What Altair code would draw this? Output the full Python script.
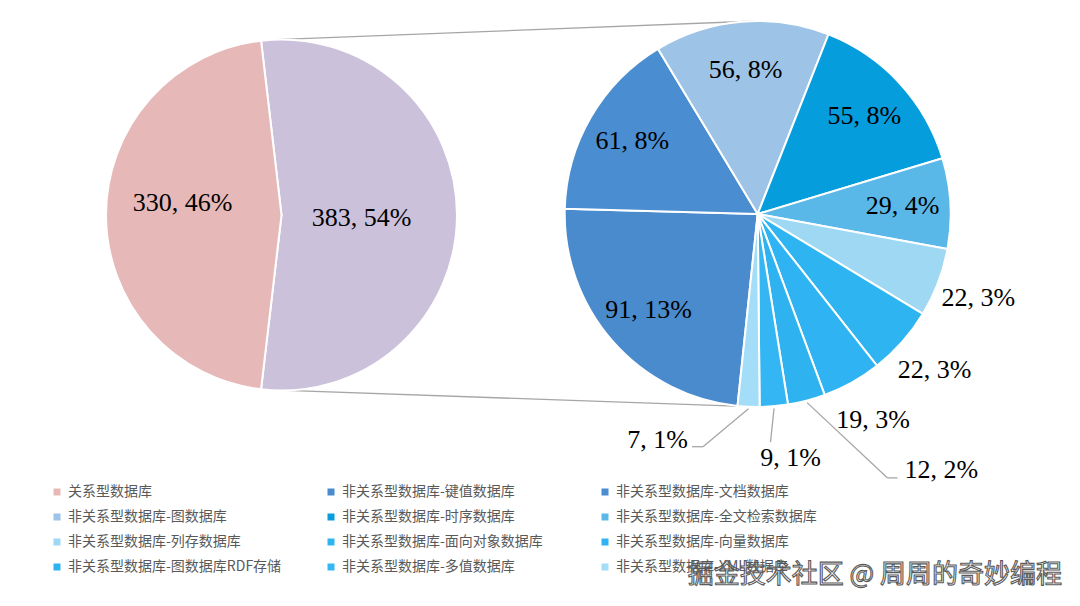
import math
import altair as alt
import pandas as pd

# ---------------- data ----------------
primary_labels = ["关系型数据库", "非关系型数据库"]
primary_values = [330, 383]

secondary_labels = [
    "非关系型数据库-键值数据库",
    "非关系型数据库-文档数据库",
    "非关系型数据库-图数据库",
    "非关系型数据库-时序数据库",
    "非关系型数据库-全文检索数据库",
    "非关系型数据库-列存数据库",
    "非关系型数据库-面向对象数据库",
    "非关系型数据库-向量数据库",
    "非关系型数据库-图数据库RDF存储",
    "非关系型数据库-多值数据库",
    "非关系型数据库-XML数据库",
]
secondary_values = [91, 61, 56, 55, 29, 22, 22, 19, 12, 9, 7]

watermark_text = ["掘金技术社区 @ 周周的奇妙编程"]

# ---------------- styles ----------------
REL_COLOR = "#e6b9b8"
NONREL_COLOR = "#ccc1da"
secondary_colors = [
    "#4a8bcd", "#4a8dd0", "#9dc3e6", "#069ddd", "#5ab8e8", "#9fd8f3",
    "#2fb4f2", "#2fb3f2", "#2fb2f0", "#33b6f3", "#a3ddf7",
]
NUM_FONT = "Liberation Serif"
CJK_FONT = "Noto Sans CJK SC"
LINE_COLOR = "#a6a6a6"

# layout (plot coordinates)
W, H = 1064, 590
LCX, LCY, LR = 273.5, 207.0, 175.5
RCX, RCY, RR = 749.7, 206.0, 193.0
R_START = math.radians(186.0)
L_START = math.pi / 2 - math.pi * primary_values[1] / sum(primary_values)


def largest_remainder(values):
    total = sum(values)
    raw = [v * 100.0 / total for v in values]
    fl = [int(math.floor(r)) for r in raw]
    rest = 100 - sum(fl)
    idx = sorted(range(len(values)), key=lambda i: raw[i] - fl[i], reverse=True)
    for i in idx[:rest]:
        fl[i] += 1
    return fl


left_pct = largest_remainder(primary_values)
right_pct = largest_remainder([primary_values[0]] + secondary_values)[1:]

left_df = pd.DataFrame({
    "cat": [primary_labels[1], primary_labels[0]],
    "value": [primary_values[1], primary_values[0]],
    "ord": [0, 1],
    "label": [f"{primary_values[1]}, {left_pct[1]}%", f"{primary_values[0]}, {left_pct[0]}%"],
})

right_df = pd.DataFrame({
    "cat": secondary_labels,
    "value": secondary_values,
    "ord": list(range(len(secondary_values))),
    "label": [f"{v}, {p}%" for v, p in zip(secondary_values, right_pct)],
})

# mid angles of secondary slices (for the small labels with leader lines)
tot = sum(secondary_values)
mids = []
cum = 0
for v in secondary_values:
    mids.append(R_START + (cum + v / 2) / tot * 2 * math.pi)
    cum += v

SMALL_LAYOUT = {
    "非关系型数据库-图数据库RDF存储": dict(align="left", nudge=(84, 16), elbow=(-17, 8), end=(-7, 8)),
    "非关系型数据库-多值数据库": dict(align="center", nudge=(12, -3), elbow=(-20, -16), end=(-20, -16)),
    "非关系型数据库-XML数据库": dict(align="right", nudge=(-58, -22), elbow=(15, 7), end=(4, 7)),
}
R_SMALL = 248

small_rows, seg_rows = [], []
for cat, v, lab, m in zip(secondary_labels, secondary_values, right_df["label"], mids):
    if cat not in SMALL_LAYOUT:
        continue
    lay = SMALL_LAYOUT[cat]
    ax = RCX + R_SMALL * math.sin(m) + lay["nudge"][0]
    ay = RCY - R_SMALL * math.cos(m) + lay["nudge"][1]
    small_rows.append({"x": ax, "y": ay, "label": lab, "align": lay["align"]})
    sx = RCX + (RR + 2) * math.sin(m)
    sy = RCY - (RR + 2) * math.cos(m)
    ex, ey = ax + lay["elbow"][0], ay + lay["elbow"][1]
    fx, fy = ax + lay["end"][0], ay + lay["end"][1]
    seg_rows.append({"x": sx, "y": sy, "x2": ex, "y2": ey})
    if (ex, ey) != (fx, fy):
        seg_rows.append({"x": ex, "y": ey, "x2": fx, "y2": fy})

# connector lines between the pies
def on_circle(cx, cy, r, deg):
    a = math.radians(deg)
    return cx + r * math.sin(a), cy - r * math.cos(a)

t1 = on_circle(LCX, LCY, LR, -2.0)
t2 = on_circle(RCX, RCY, RR, 0.0)
b1 = on_circle(LCX, LCY, LR, 178.5)
b2 = on_circle(RCX, RCY, RR, 184.5)
conn_df = pd.DataFrame([
    {"x": t1[0], "y": t1[1], "x2": t2[0], "y2": t2[1]},
    {"x": b1[0], "y": b1[1], "x2": b2[0], "y2": b2[1]},
])
seg_df = pd.DataFrame(seg_rows)
small_df = pd.DataFrame(small_rows)

# ---------------- charts ----------------
def seg_chart(df):
    return alt.Chart(df).mark_rule(color=LINE_COLOR, strokeWidth=1.3).encode(
        x=alt.X("x:Q", scale=None), y=alt.Y("y:Q", scale=None),
        x2="x2:Q", y2="y2:Q",
    )

connectors = seg_chart(conn_df)
leaders = seg_chart(seg_df)

l_theta = alt.Theta("value:Q", stack=True,
                    scale=alt.Scale(range=[L_START, L_START + 2 * math.pi]))
left_base = alt.Chart(left_df)
left_arc = left_base.mark_arc(outerRadius=LR, stroke="white", strokeWidth=2).encode(
    theta=l_theta,
    order=alt.Order("ord:Q"),
    detail="cat:N",
    color=alt.condition(alt.datum.cat == primary_labels[0], alt.value(REL_COLOR), alt.value(NONREL_COLOR)),
    x=alt.value(LCX), y=alt.value(LCY),
)

def left_text(expr, radius, dy):
    return left_base.transform_calculate(t=expr).mark_text(
        radius=radius, dy=dy, font=NUM_FONT, fontSize=26, color="#000000", baseline="middle"
    ).encode(
        theta=l_theta, order=alt.Order("ord:Q"), detail="cat:N", text="t:N",
        x=alt.value(LCX), y=alt.value(LCY),
    )

left_group = alt.layer(
    left_arc,
    left_text(f"datum.cat == '{primary_labels[0]}' ? datum.label : ''", 99, -12),
    left_text(f"datum.cat == '{primary_labels[1]}' ? datum.label : ''", 80, 3),
)

r_theta = alt.Theta("value:Q", stack=True,
                    scale=alt.Scale(range=[R_START, R_START + 2 * math.pi]))
right_base = alt.Chart(right_df)
right_arc = right_base.mark_arc(outerRadius=RR, stroke="white", strokeWidth=2).encode(
    theta=r_theta,
    order=alt.Order("ord:Q"),
    color=alt.Color(
        "cat:N",
        scale=alt.Scale(domain=[primary_labels[0]] + secondary_labels,
                        range=[REL_COLOR] + secondary_colors),
        legend=alt.Legend(
            title=None, orient="none", legendX=42, legendY=477, columns=3,
            direction="horizontal",
            symbolType="square", symbolSize=49, symbolStrokeWidth=0,
            labelFont=CJK_FONT, labelFontSize=14, labelColor="#595959",
            labelOffset=4, columnPadding=42, rowPadding=11, gridAlign="all",
            padding=0, labelLimit=400,
        ),
    ),
    x=alt.value(RCX), y=alt.value(RCY),
)

def right_text(expr, radius):
    return right_base.transform_calculate(t=expr).mark_text(
        radius=radius, font=NUM_FONT, fontSize=26, color="#000000", baseline="middle"
    ).encode(
        theta=r_theta, order=alt.Order("ord:Q"), detail="cat:N", text="t:N",
        x=alt.value(RCX), y=alt.value(RCY),
    )

right_group = alt.layer(
    right_arc,
    right_text("datum.value >= 25 ? datum.label : ''", 145),
    right_text("datum.value >= 15 && datum.value < 25 ? datum.label : ''", 236),
)

pies = alt.layer(left_group, right_group).resolve_scale(theta="independent")

small_layers = []
for al in ["left", "center", "right"]:
    sub = small_df[small_df["align"] == al]
    if len(sub) == 0:
        continue
    small_layers.append(
        alt.Chart(sub).mark_text(align=al, baseline="middle", font=NUM_FONT, fontSize=26, color="#000000").encode(
            x=alt.X("x:Q", scale=None), y=alt.Y("y:Q", scale=None), text="label:N"
        )
    )

watermark = alt.Chart(pd.DataFrame({"t": watermark_text})).mark_text(
    align="right", baseline="middle", font=CJK_FONT, fontSize=26,
    fill="white", stroke="#5a5a5a", strokeWidth=1.1,
).encode(x=alt.value(1054), y=alt.value(567), text="t:N")

chart = alt.layer(connectors, pies, leaders, *small_layers, watermark).properties(
    width=W, height=H, padding=0,
    autosize=alt.AutoSizeParams(type="none"),
    background="white",
).configure_view(stroke=None)

chart.save("out.html", embed_options={"renderer": "svg", "actions": False})
